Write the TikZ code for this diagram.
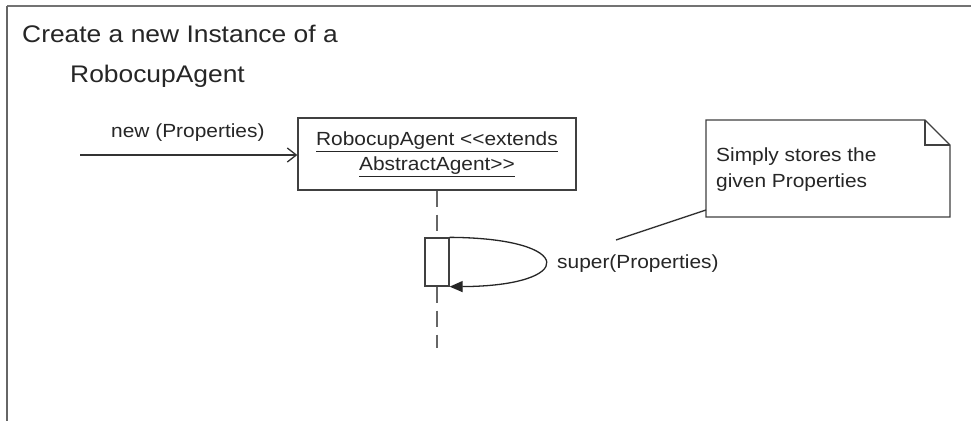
\documentclass[tikz,border=0pt]{standalone}
\usepackage{fontspec}
\setmainfont{Liberation Sans}[FakeStretch=1.1]
\usetikzlibrary{arrows.meta}
\begin{document}
\begin{tikzpicture}[x=1pt,y=-1pt,
  lbl/.style={font=\fontsize{19}{25}\selectfont, inner sep=0pt, text=black!85},
  ttl/.style={font=\fontsize{24}{30}\selectfont, inner sep=0pt, text=black!85},
  shp/.style={draw=black!75, line width=1.3pt},
  life/.style={draw=black!60, line width=1.6pt, dash pattern=on 16pt off 8pt}]
\useasboundingbox (0,0) rectangle (971,421);
\fill[white] (0,0) rectangle (971,421);
% frame
\draw[black!55, line width=2.5pt] (7,6) -- (971,6);
\draw[black!60, line width=1.8pt] (7,6) -- (7,421);
% title
\node[ttl, anchor=base west] (t1) at (22,42) {Create a new Instance of a};
\node[ttl, anchor=base west] (t2) at (70,82) {RobocupAgent};
% object box
\node[shp, minimum width=278pt, minimum height=72pt, inner sep=0pt, align=center,
  font=\fontsize{19}{25}\selectfont, text=black!85] (obj) at (437,154)
  {\underline{RobocupAgent <{}<extends}\\\underline{AbstractAgent>{}>}};
% incoming message
\coordinate (src) at (80,155);
\draw[black!80, line width=1.3pt, -{Straight Barb[length=9pt,width=14pt]}] (src) -- (obj.west |- src);
\node[lbl, anchor=base west] (newlbl) at (111,137) {new (Properties)};
% activation
\node[shp, minimum width=24pt, minimum height=48pt, inner sep=0pt] (act) at (437,262) {};
% lifeline
\coordinate (lend) at (437,348);
\draw[life] (obj.south -| act.north) -- (act.north);
\draw[life] (act.south) -- (lend);
% self call
\draw[black!85, line width=1.3pt, -{Triangle[length=13pt,width=11pt]}]
  (act.north east) .. controls (577,238) and (577,286) .. (act.south east);
\node[lbl, anchor=west] (super) at (557,264) {super(Properties)};
% note
\coordinate (n1) at (706,120);
\coordinate (n2) at (925,120);
\coordinate (n3) at (950,145);
\coordinate (n4) at (950,217);
\coordinate (n5) at (706,217);
\draw[shp, fill=white] (n1) -- (n2) -- (n3) -- (n4) -- (n5) -- cycle;
\draw[shp] (n2) -- (n2 |- n3) -- (n3);
\node[lbl, anchor=base west] (note1) at (716,161) {Simply stores the};
\node[lbl, anchor=base west] (note2) at (716,187) {given Properties};
\coordinate (anc) at (616,240);
\draw[black!80, line width=1.3pt] (anc) -- (n5 |- 0,210);
\end{tikzpicture}
\end{document}
